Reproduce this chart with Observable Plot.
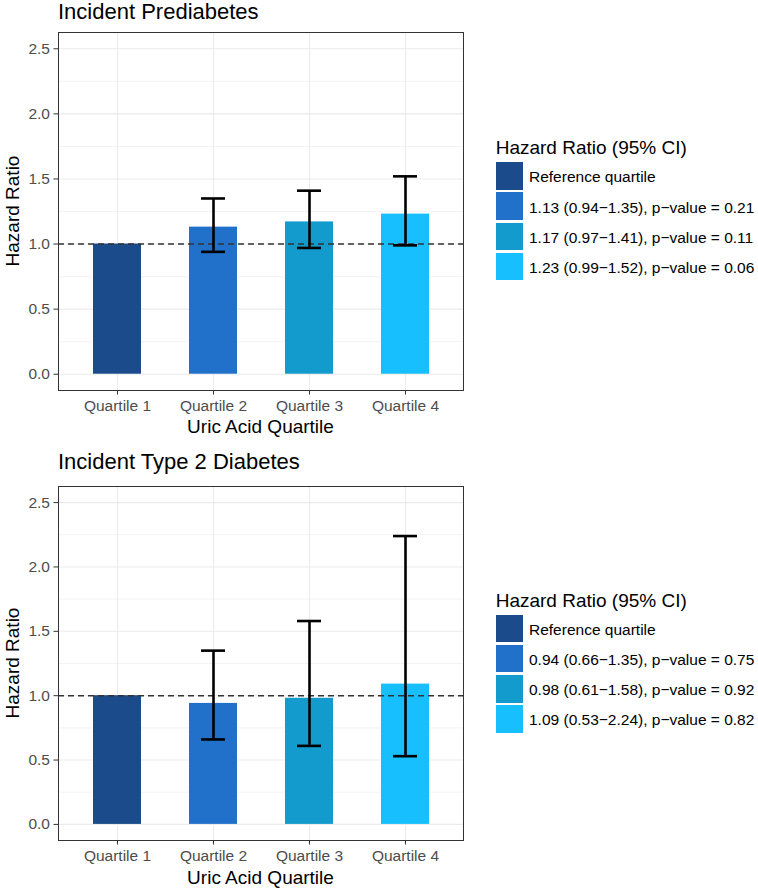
<!DOCTYPE html>
<html><head><meta charset="utf-8">
<script src="https://cdn.jsdelivr.net/npm/d3@7"></script>
<script src="https://cdn.jsdelivr.net/npm/@observablehq/plot@0.6"></script>
<style>
body{margin:0;background:#fff;}
#root{position:relative;width:758px;height:888px;overflow:hidden;background:#fff;font-family:"Liberation Sans",Arial,Helvetica,sans-serif;}
.t{position:absolute;white-space:nowrap;line-height:1;}
.svgwrap{position:absolute;left:0;}
</style></head><body><div id="root"></div>
<script>
const quartiles = ["Quartile 1", "Quartile 2", "Quartile 3", "Quartile 4"];
const colors = ["#1b4b8a", "#2171cb", "#139bcd", "#17bffe"];
const yTicks = [0, 0.5, 1, 1.5, 2, 2.5];
const yMinor = [0.25, 0.75, 1.25, 1.75, 2.25];

const preTitle = "Incident Prediabetes";
const preHR = [1, 1.13, 1.17, 1.23];
const preLo = [null, 0.94, 0.97, 0.99];
const preHi = [null, 1.35, 1.41, 1.52];
const preLegend = ["Reference quartile",
  "1.13 (0.94\u22121.35), p\u2212value = 0.21",
  "1.17 (0.97\u22121.41), p\u2212value = 0.11",
  "1.23 (0.99\u22121.52), p\u2212value = 0.06"];

const t2dTitle = "Incident Type 2 Diabetes";
const t2dHR = [1, 0.94, 0.98, 1.09];
const t2dLo = [null, 0.66, 0.61, 0.53];
const t2dHi = [null, 1.35, 1.58, 2.24];
const t2dLegend = ["Reference quartile",
  "0.94 (0.66\u22121.35), p\u2212value = 0.75",
  "0.98 (0.61\u22121.58), p\u2212value = 0.92",
  "1.09 (0.53\u22122.24), p\u2212value = 0.82"];

const legendTitle = "Hazard Ratio (95% CI)";
const xTitle = "Uric Acid Quartile";
const yTitle = "Hazard Ratio";

const FONT = '"Liberation Sans", Arial, Helvetica, sans-serif';
const root = document.getElementById("root");

function text(str, x, baseline, size, opts = {}) {
  const d = document.createElement("div");
  d.className = "t";
  d.textContent = str;
  d.style.fontSize = size + "px";
  d.style.color = opts.color || "#000";
  d.style.top = (baseline - 0.8465 * size) + "px";
  d.style.left = x + "px";
  if (opts.anchor === "middle") d.style.transform = "translateX(-50%)";
  root.appendChild(d);
  return d;
}
function vtext(str, cx, cy, size) {
  const d = document.createElement("div");
  d.className = "t";
  d.textContent = str;
  d.style.fontSize = size + "px";
  d.style.left = cx + "px";
  d.style.top = cy + "px";
  d.style.transform = "translate(-50%,-50%) rotate(-90deg)";
  root.appendChild(d);
}

function panel(hr, lo, hi, height, mb) {
  const rows = quartiles.map((q, i) => ({q, hr: hr[i], lo: lo[i], hi: hi[i]}));
  const ci = rows.filter(d => d.lo != null);
  const eb = {stroke: "#000", strokeWidth: 2.6};
  return Plot.plot({
    width: 470, height,
    marginLeft: 58, marginRight: 7, marginTop: 4, marginBottom: mb,
    style: {fontFamily: FONT, background: "transparent", overflow: "visible"},
    x: {type: "band", domain: quartiles, paddingInner: 0.5, paddingOuter: 0.35},
    y: {domain: [-0.125, 2.625]},
    color: {domain: quartiles, range: colors},
    marks: [
      Plot.ruleY(yMinor, {stroke: "#ebebeb", strokeWidth: 0.6}),
      Plot.ruleY(yTicks, {stroke: "#ebebeb", strokeWidth: 1.1}),
      Plot.ruleX(quartiles, {x: d => d, stroke: "#ebebeb", strokeWidth: 1.1}),
      Plot.barY(rows, {x: "q", y: "hr", fill: "q"}),
      Plot.ruleY([1], {stroke: "#333", strokeWidth: 1.5, strokeDasharray: "6,4"}),
      Plot.ruleX(ci, {x: "q", y1: "lo", y2: "hi", ...eb}),
      Plot.tickY(ci, {x: "q", y: "lo", insetLeft: 12, insetRight: 12, ...eb}),
      Plot.tickY(ci, {x: "q", y: "hi", insetLeft: 12, insetRight: 12, ...eb}),
      Plot.frame({stroke: "#333", strokeWidth: 1}),
      Plot.axisY(yTicks, {tickFormat: d => d.toFixed(1), tickSize: 4.5, tickPadding: 4,
        fontSize: 15.5, fill: "#4d4d4d", stroke: "#333", label: null}),
      Plot.axisX({tickSize: 4.5, tickPadding: 4.5, fontSize: 15.5, fill: "#4d4d4d",
        stroke: "#333", label: null})
    ]
  });
}

function addPanel(top, height, mb, hr, lo, hi) {
  const w = document.createElement("div");
  w.className = "svgwrap";
  w.style.top = top + "px";
  w.appendChild(panel(hr, lo, hi, height, mb));
  root.appendChild(w);
}

function legend(titleBaseline, keysTop, labels) {
  text(legendTitle, 495.7, titleBaseline, 19);
  labels.forEach((lab, i) => {
    const k = document.createElement("div");
    k.style.position = "absolute";
    k.style.left = "495.7px";
    k.style.top = (keysTop + 30.1 * i) + "px";
    k.style.width = "27.6px";
    k.style.height = "27.4px";
    k.style.background = colors[i];
    root.appendChild(k);
    text(lab, 529, keysTop + 30.1 * i + 20.3, 15.5);
  });
}

// top panel
text(preTitle, 58, 19.5, 22);
addPanel(28, 420, 58, preHR, preLo, preHi);
text(xTitle, 260.5, 433.3, 19, {anchor: "middle"});
vtext(yTitle, 11.7, 211, 19);
legend(154, 162.3, preLegend);

// bottom panel
text(t2dTitle, 58, 469.5, 22);
addPanel(482, 406, 48, t2dHR, t2dLo, t2dHi);
text(xTitle, 260.5, 884.3, 19, {anchor: "middle"});
vtext(yTitle, 11.7, 663, 19);
legend(607, 615, t2dLegend);
</script></body></html>
